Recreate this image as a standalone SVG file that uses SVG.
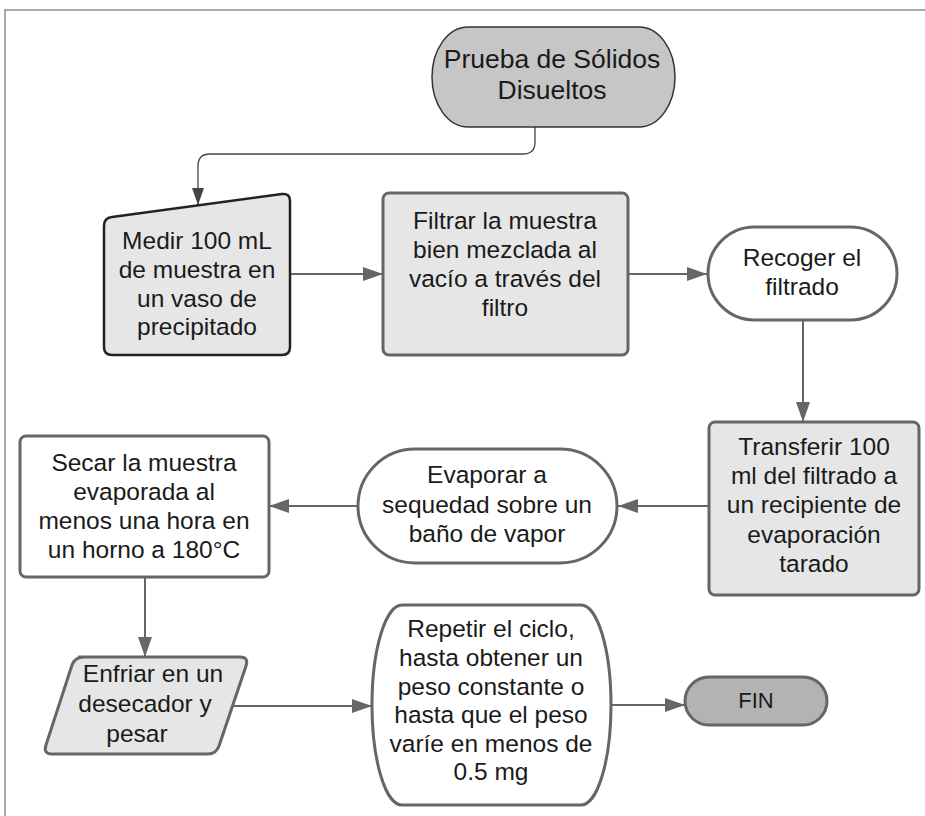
<svg xmlns="http://www.w3.org/2000/svg" width="925" height="816" viewBox="0 0 925 816">
<defs>
<style>
.t{font-family:"Liberation Sans",Arial,sans-serif;font-size:24.5px;fill:#1a1a1a;text-anchor:middle}
.n{stroke:#666;stroke-width:3;fill:#fff}
.g{fill:#e6e6e6}
.c{stroke:#666;stroke-width:2;fill:none}
</style>
<marker id="ah" markerWidth="20" markerHeight="14" refX="20" refY="7" orient="auto" markerUnits="userSpaceOnUse"><path d="M0,0 L20,7 L0,14 Z" fill="#666"/></marker>
<marker id="as" markerWidth="17" markerHeight="12" refX="17" refY="6" orient="auto" markerUnits="userSpaceOnUse"><path d="M0,0 L17,6 L0,12 Z" fill="#444"/></marker>
</defs>
<rect width="925" height="816" fill="#fff"/>
<path d="M5,816 V10 H925" fill="none" stroke="#aaa" stroke-width="2"/>
<g id="connectors">
<path d="M535,127 V142 Q535,154 523,154 H210 Q198,154 198,166 V205" fill="none" stroke="#444" stroke-width="1.3" marker-end="url(#as)"/>
<path class="c" d="M290,274 H383" marker-end="url(#ah)"/>
<path class="c" d="M628,274 H707" marker-end="url(#ah)"/>
<path class="c" d="M803,320 V422" marker-end="url(#ah)"/>
<path class="c" d="M708,506 H618" marker-end="url(#ah)"/>
<path class="c" d="M358,506 H269" marker-end="url(#ah)"/>
<path class="c" d="M145,577 V657" marker-end="url(#ah)"/>
<path class="c" d="M232,706 H372" marker-end="url(#ah)"/>
<path class="c" d="M611,705 H685" marker-end="url(#ah)"/>
</g>
<g id="start">
<path d="M468,27 H639 A36,50 0 0 1 639,127 H468 A36,50 0 0 1 468,27 Z" fill="#c6c6c6" stroke="#333" stroke-width="1.5"/>
<text class="t" x="552" y="68" style="font-size:26.5px">Prueba de Sólidos</text>
<text class="t" x="552" y="99" style="font-size:26.5px">Disueltos</text>
</g>
<g id="medir">
<path d="M104,226 Q104,218 112,217 L282,194 Q290,193 290,201 L290,347 Q290,355 282,355 L112,355 Q104,355 104,347 Z" fill="#e6e6e6" stroke="#222" stroke-width="2.5"/>
<text class="t" x="197" y="249">Medir 100 mL</text>
<text class="t" x="197" y="278">de muestra en</text>
<text class="t" x="197" y="307">un vaso de</text>
<text class="t" x="197" y="335">precipitado</text>
</g>
<g id="filtrar">
<rect class="n g" x="383" y="193" width="245" height="162" rx="6"/>
<text class="t" x="505" y="229">Filtrar la muestra</text>
<text class="t" x="505" y="258">bien mezclada al</text>
<text class="t" x="505" y="287">vacío a través del</text>
<text class="t" x="505" y="316">filtro</text>
</g>
<g id="recoger">
<rect class="n" x="708" y="227" width="189" height="93" rx="46.5"/>
<text class="t" x="802" y="266">Recoger el</text>
<text class="t" x="802" y="295">filtrado</text>
</g>
<g id="transferir">
<rect class="n g" x="709" y="422" width="210" height="173" rx="6"/>
<text class="t" x="814" y="455">Transferir 100</text>
<text class="t" x="814" y="484">ml del filtrado a</text>
<text class="t" x="814" y="513">un recipiente de</text>
<text class="t" x="814" y="543">evaporación</text>
<text class="t" x="814" y="572">tarado</text>
</g>
<g id="evaporar">
<rect class="n" x="358" y="449" width="259" height="114" rx="57"/>
<text class="t" x="487" y="483">Evaporar a</text>
<text class="t" x="487" y="513">sequedad sobre un</text>
<text class="t" x="487" y="542">baño de vapor</text>
</g>
<g id="secar">
<rect class="n" x="20" y="436" width="249" height="141" rx="6"/>
<text class="t" x="144" y="471">Secar la muestra</text>
<text class="t" x="144" y="500">evaporada al</text>
<text class="t" x="144" y="529">menos una hora en</text>
<text class="t" x="144" y="558">un horno a 180°C</text>
</g>
<g id="enfriar">
<path d="M78,657 H240 Q249,657 246,666 L219,746 Q216,754 208,754 H52 Q43,754 46,745 L72,665 Q75,657 84,657 Z" fill="#e6e6e6" stroke="#666" stroke-width="3"/>
<text class="t" x="153" y="682">Enfriar en un</text>
<text class="t" x="145" y="712">desecador y</text>
<text class="t" x="137" y="742">pesar</text>
</g>
<g id="repetir">
<path class="n" d="M402,605 H581 A30,100 0 0 1 581,805 H402 A30,100 0 0 1 402,605 Z"/>
<text class="t" x="491" y="637">Repetir el ciclo,</text>
<text class="t" x="491" y="666">hasta obtener un</text>
<text class="t" x="491" y="695">peso constante o</text>
<text class="t" x="491" y="723">hasta que el peso</text>
<text class="t" x="491" y="752">varíe en menos de</text>
<text class="t" x="491" y="780">0.5 mg</text>
</g>
<g id="fin">
<rect class="n" x="685" y="677" width="142" height="48" rx="24" style="fill:#b3b3b3"/>
<text class="t" x="756" y="708" style="font-size:22px">FIN</text>
</g>
</svg>
